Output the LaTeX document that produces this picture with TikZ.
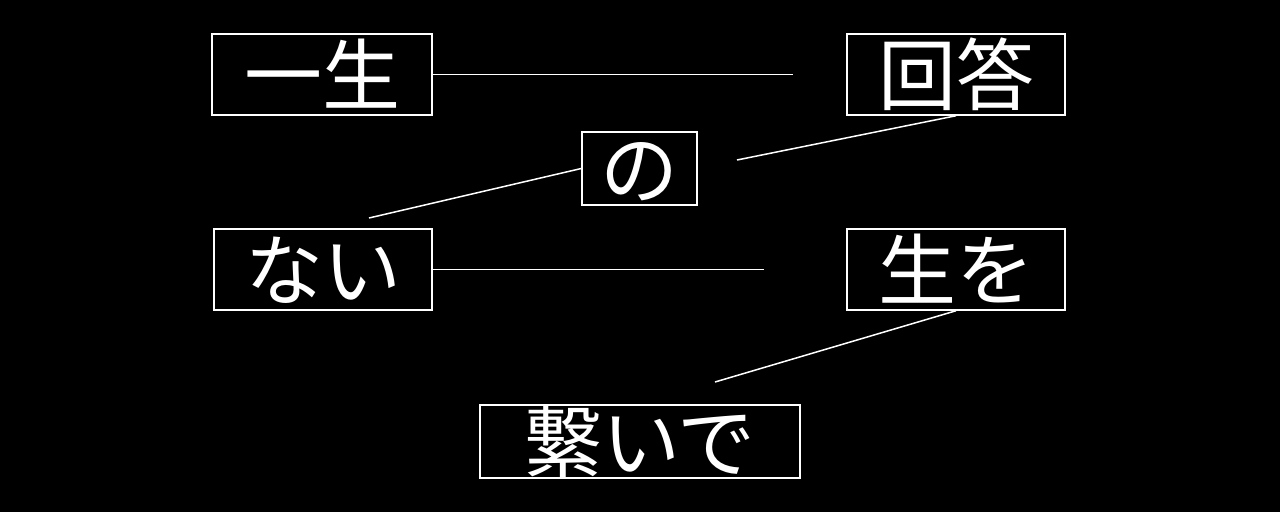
\documentclass[tikz,border=0pt]{standalone}
\usepackage{fontspec}
\newfontfamily\cjk{Noto Sans CJK JP}
\begin{document}
\begin{tikzpicture}[x=1pt,y=-1pt,
  box/.style={draw=white,line width=1.5pt,text=white,inner sep=0pt,text height=59pt,text depth=0pt,font=\cjk\fontsize{78}{80}\selectfont},
  ln/.style={draw=white,line width=1.5pt}]
\fill[black] (0,0) rectangle (1280,512);
\useasboundingbox (0,0) rectangle (1280,512);
\node[box,minimum width=220pt,minimum height=81pt] (a) at (322,74.5) {一生};
\node[box,minimum width=218pt,minimum height=81pt] (b) at (956,74.5) {回答};
\node[box,minimum width=115pt,minimum height=73pt] (c) at (639.5,168.5) {の};
\node[box,minimum width=218pt,minimum height=81pt] (d) at (323,269.5) {ない};
\node[box,minimum width=218pt,minimum height=81pt] (e) at (956,269.5) {生を};
\node[box,minimum width=320pt,minimum height=73pt] (f) at (640,441.5) {繋いで};
\coordinate (p1) at (793,74.5);
\coordinate (p2) at (737,160);
\coordinate (p3) at (369,218);
\coordinate (p4) at (764,269.5);
\coordinate (p5) at (715,382);
\draw[ln] (a.east) -- (p1);
\draw[ln] (b.south) -- (p2);
\draw[ln] (c.west) -- (p3);
\draw[ln] (d.east) -- (p4);
\draw[ln] (e.south) -- (p5);
\end{tikzpicture}
\end{document}
